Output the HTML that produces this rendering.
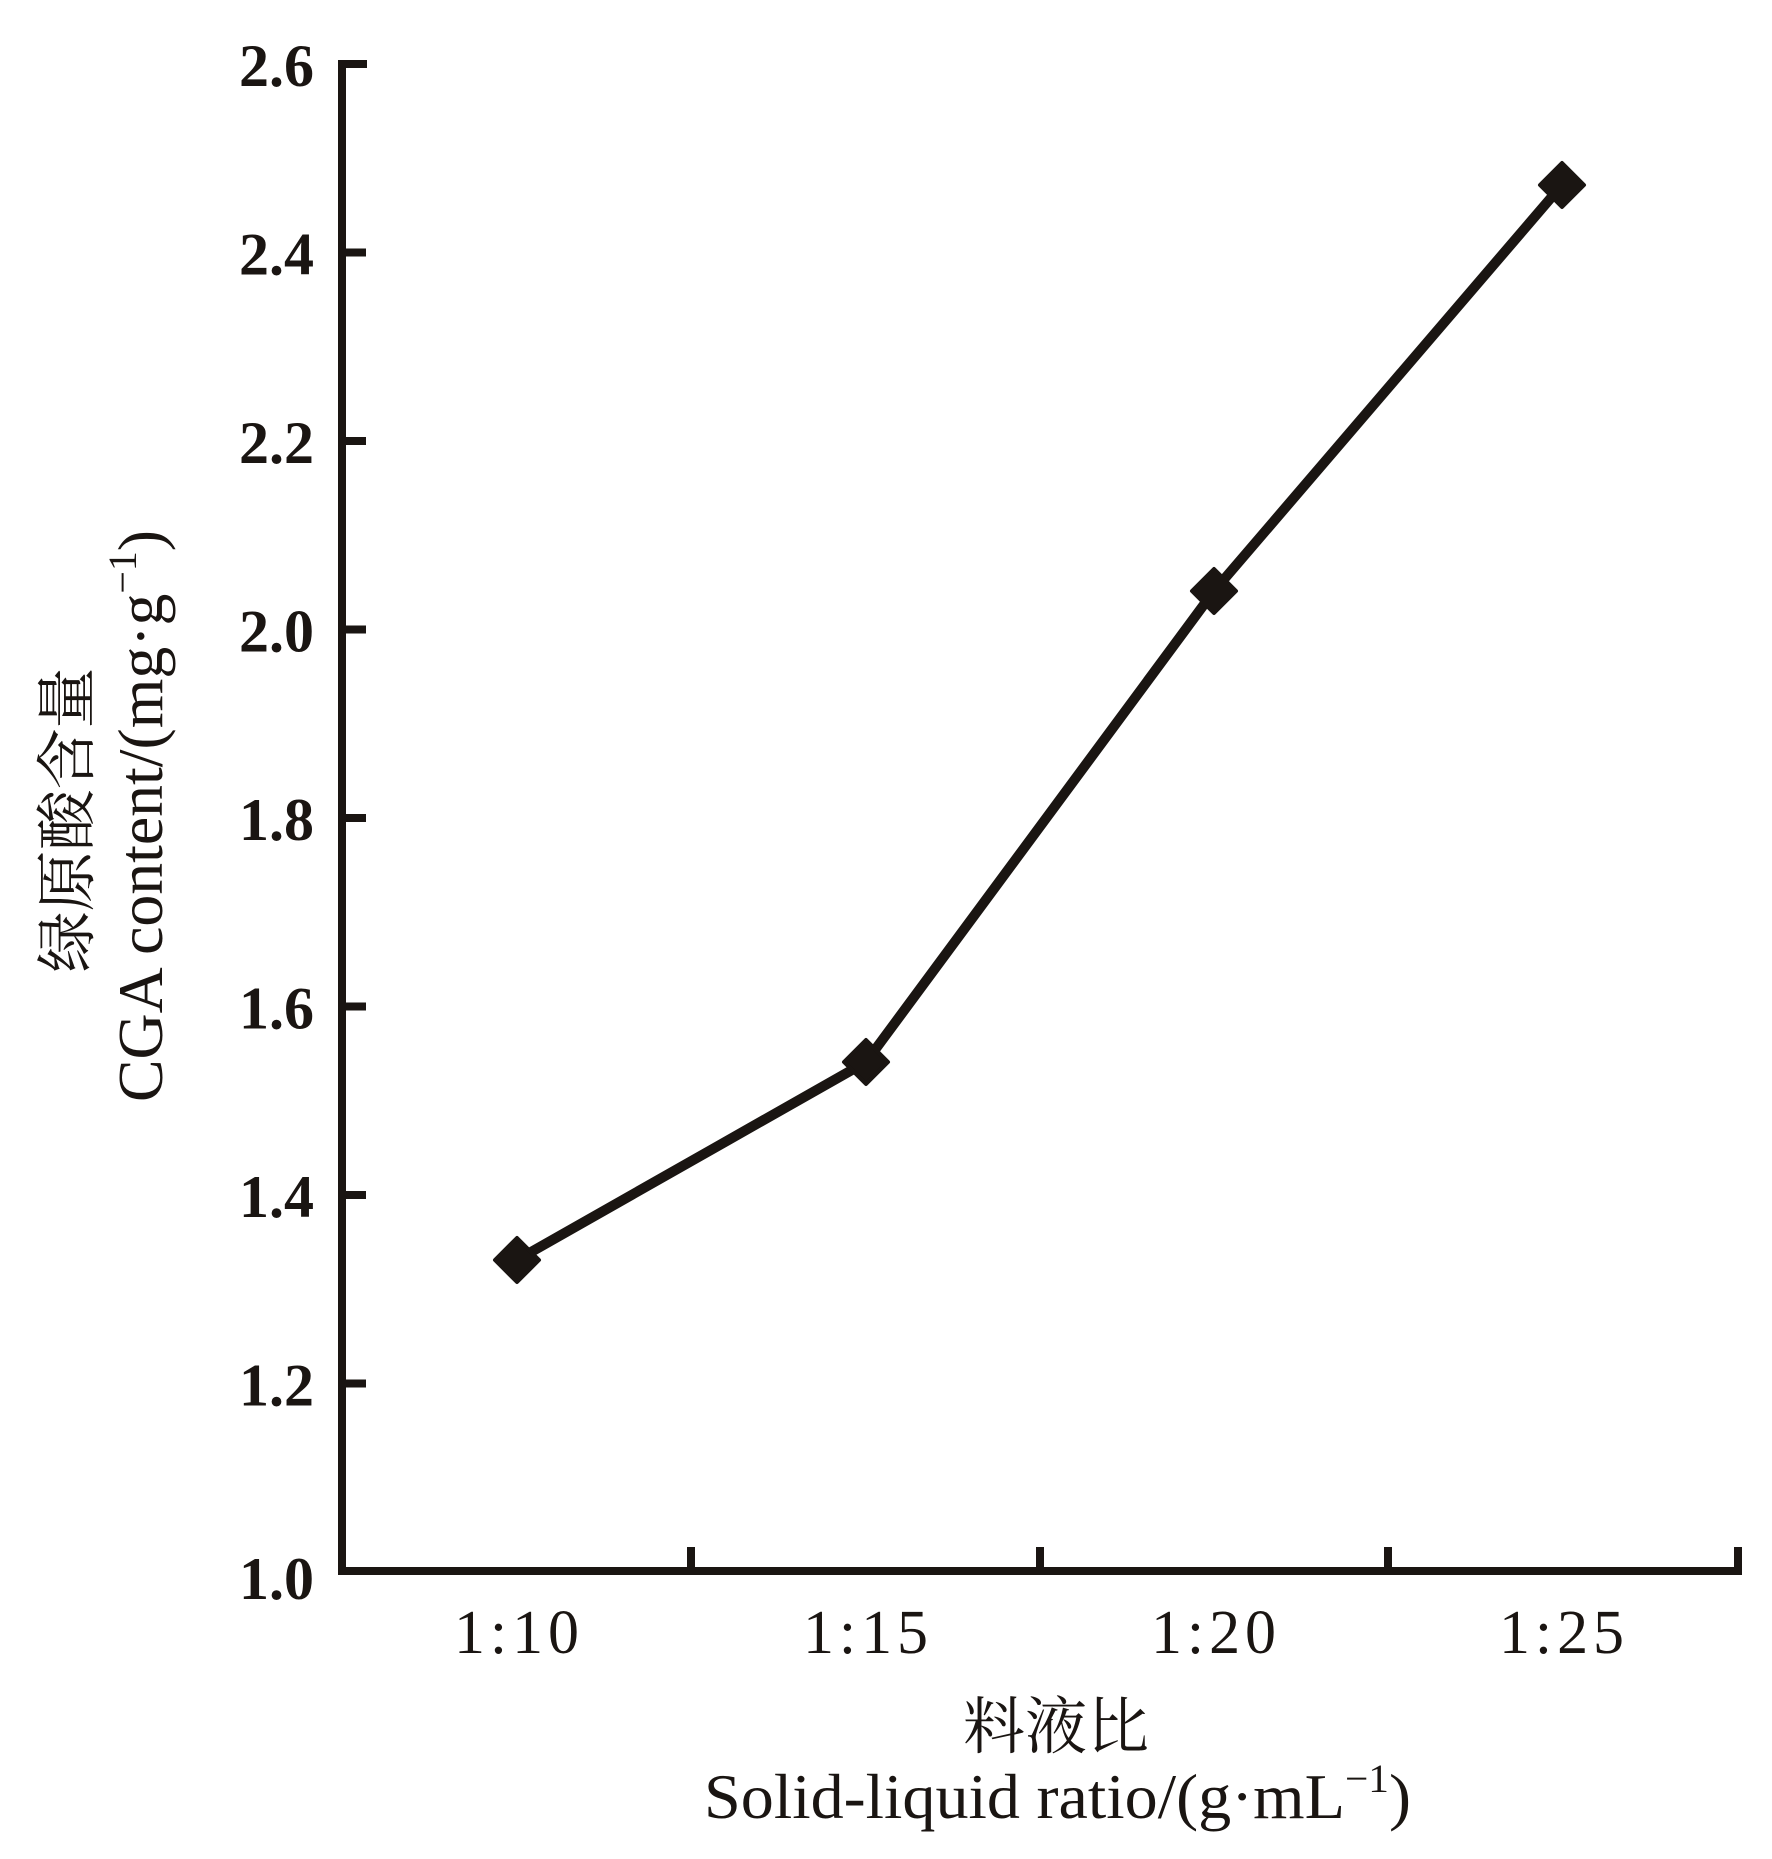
<!DOCTYPE html>
<html><head><meta charset="utf-8"><style>
html,body{margin:0;padding:0;background:#fff;}
svg{display:block;}
text{font-family:"Liberation Serif","Noto Serif CJK SC",serif;fill:#1a1512;}
</style></head><body>
<svg width="1772" height="1859" viewBox="0 0 1772 1859" xmlns="http://www.w3.org/2000/svg">
<g stroke="#1a1512" stroke-width="8" fill="none" stroke-linecap="butt">
<polyline points="367,64 342,64 342,1571 1738,1571 1738,1547"/>
<line x1="342" y1="252.5" x2="366" y2="252.5"/>
<line x1="342" y1="441" x2="366" y2="441"/>
<line x1="342" y1="629.5" x2="366" y2="629.5"/>
<line x1="342" y1="818" x2="366" y2="818"/>
<line x1="342" y1="1006.5" x2="366" y2="1006.5"/>
<line x1="342" y1="1195" x2="366" y2="1195"/>
<line x1="342" y1="1383.5" x2="366" y2="1383.5"/>
<line x1="691" y1="1571" x2="691" y2="1547"/>
<line x1="1040" y1="1571" x2="1040" y2="1547"/>
<line x1="1388" y1="1571" x2="1388" y2="1547"/>
</g>
<polyline points="517,1260 866,1062 1214,591 1562,185" stroke="#1a1512" stroke-width="10" fill="none" stroke-linejoin="round"/>
<g fill="#1a1512" stroke="#1a1512" stroke-width="4" stroke-linejoin="round">
<polygon points="517,1238 539,1260 517,1282 495,1260"/>
<polygon points="866,1040 888,1062 866,1084 844,1062"/>
<polygon points="1214,569 1236,591 1214,613 1192,591"/>
<polygon points="1562,163 1584,185 1562,207 1540,185"/>
</g>
<g font-size="60" font-weight="bold" text-anchor="end">
<text x="314" y="86">2.6</text>
<text x="314" y="274.5">2.4</text>
<text x="314" y="463">2.2</text>
<text x="314" y="651.5">2.0</text>
<text x="314" y="840">1.8</text>
<text x="314" y="1028.5">1.6</text>
<text x="314" y="1217">1.4</text>
<text x="314" y="1405.5">1.2</text>
<text x="314" y="1599">1.0</text>
</g>
<g font-size="62">
<text x="454" y="1653" textLength="125" lengthAdjust="spacing">1:10</text>
<text x="803" y="1653" textLength="125" lengthAdjust="spacing">1:15</text>
<text x="1151" y="1653" textLength="125" lengthAdjust="spacing">1:20</text>
<text x="1499" y="1653" textLength="125" lengthAdjust="spacing">1:25</text>
</g>
<text x="1056" y="1748" font-size="62" text-anchor="middle" font-family="Noto Serif CJK SC, serif">料液比</text>
<text x="704" y="1818" font-size="64" textLength="707" lengthAdjust="spacingAndGlyphs">Solid-liquid ratio/(g·mL<tspan font-size="40" dy="-26">−1</tspan><tspan dy="26">)</tspan></text>
<text transform="translate(88,820) rotate(-90)" font-size="61" text-anchor="middle" font-family="Noto Serif CJK SC, serif">绿原酸含量</text>
<text transform="translate(162,1102) rotate(-90)" font-size="64" textLength="572" lengthAdjust="spacingAndGlyphs">CGA content/(mg·g<tspan font-size="40" dy="-26">−1</tspan><tspan dy="26">)</tspan></text>
</svg>
</body></html>
